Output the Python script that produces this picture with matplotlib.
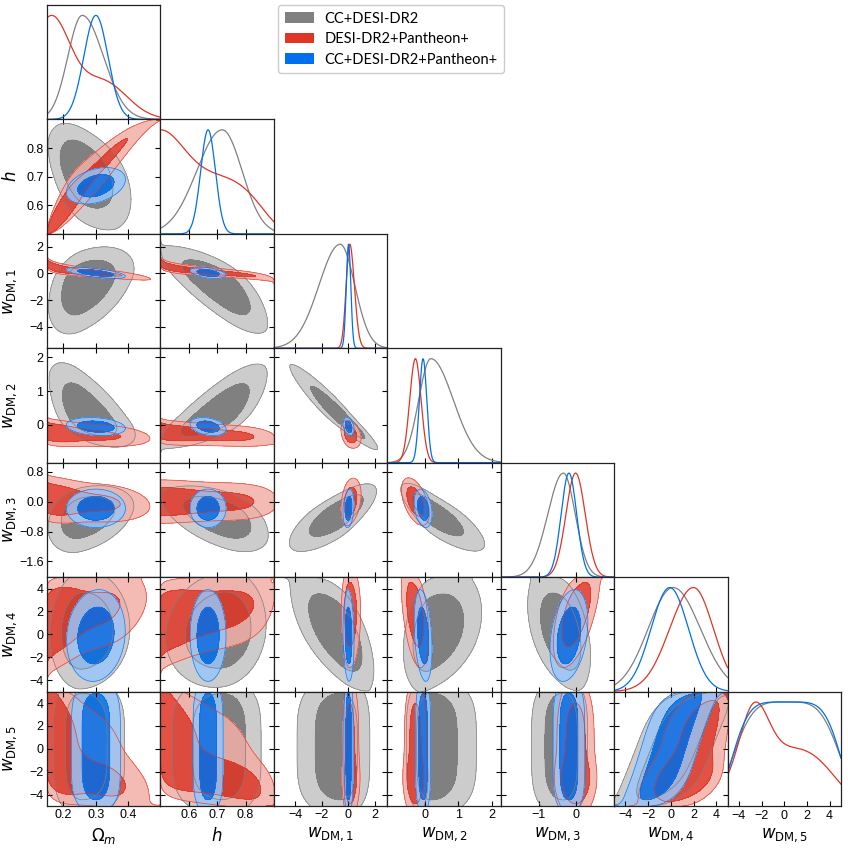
import math
import numpy as np
import matplotlib
matplotlib.use("Agg")
import matplotlib.pyplot as plt
from matplotlib.patches import Patch

plt.rcParams["font.family"] = ["Liberation Sans", "DejaVu Sans"]
plt.rcParams["mathtext.fontset"] = "dejavusans"

# ---------------- data ----------------
param_labels = [r"$\Omega_m$", r"$h$", r"$w_{\rm DM,1}$", r"$w_{\rm DM,2}$",
                r"$w_{\rm DM,3}$", r"$w_{\rm DM,4}$", r"$w_{\rm DM,5}$"]
param_ranges = [(0.15, 0.498), (0.5, 0.9), (-5.6, 2.95), (-1.12, 2.27),
                (-2.02, 1.04), (-5.0, 5.0), (-5.0, 5.0)]

x_ticks = [[0.2, 0.3, 0.4], [0.6, 0.7, 0.8], [-4, -2, 0, 2], [0, 1, 2],
           [-1, 0], [-4, -2, 0, 2, 4], [-4, -2, 0, 2, 4]]
x_ticklabels = [["0.2", "0.3", "0.4"], ["0.6", "0.7", "0.8"],
                ["\u22124", "\u22122", "0", "2"], ["0", "1", "2"],
                ["\u22121", "0"],
                ["\u22124", "\u22122", "0", "2", "4"],
                ["\u22124", "\u22122", "0", "2", "4"]]
y_ticks = [[], [0.6, 0.7, 0.8], [-4, -2, 0, 2], [0, 1, 2],
           [-1.6, -0.8, 0.0, 0.8], [-4, -2, 0, 2, 4], [-4, -2, 0, 2, 4]]
y_ticklabels = [[], ["0.6", "0.7", "0.8"],
                ["\u22124", "\u22122", "0", "2"], ["0", "1", "2"],
                ["\u22121.6", "\u22120.8", "0.0", "0.8"],
                ["\u22124", "\u22122", "0", "2", "4"],
                ["\u22124", "\u22122", "0", "2", "4"]]

dataset_names = ["CC+DESI-DR2", "DESI-DR2+Pantheon+", "CC+DESI-DR2+Pantheon+"]
dataset_colors = ["#808080", "#e03424", "#006FED"]

# 1D marginal shapes: (peak, sigma_left, sigma_right, power, weight)
marg_gray = [
    [(0.258, 0.044, 0.065, 2, 1.0)],
    [(0.718, 0.090, 0.070, 2, 1.0)],
    [(-0.6, 1.6, 1.1, 2, 1.0)],
    [(0.18, 0.36, 0.67, 2, 1.0)],
    [(-0.33, 0.42, 0.32, 2, 1.0)],
    [(0.2, 2.2, 2.4, 2, 1.0)],
    [(0.2, 4.3, 4.3, 4, 1.0)],
]
marg_red = [
    [(0.16, 0.06, 0.06, 2, 0.9), (0.32, 0.075, 0.075, 2, 0.34)],
    [(0.5, 0.08, 0.08, 2, 0.43), (0.5, 0.33, 0.33, 6, 0.57)],
    [(0.12, 0.27, 0.35, 2, 1.0)],
    [(-0.28, 0.17, 0.17, 2, 1.0)],
    [(0.0, 0.26, 0.26, 2, 1.0)],
    [(2.0, 2.1, 1.75, 2, 1.0)],
    [(-2.7, 1.2, 1.2, 2, 0.55), (0.0, 4.0, 4.0, 3, 0.6)],
]
marg_blue = [
    [(0.30, 0.037, 0.037, 2, 1.0)],
    [(0.668, 0.026, 0.026, 2, 1.0)],
    [(0.03, 0.17, 0.17, 2, 1.0)],
    [(-0.05, 0.11, 0.11, 2, 1.0)],
    [(-0.18, 0.21, 0.21, 2, 1.0)],
    [(-0.1, 1.65, 1.65, 2, 1.0)],
    [(0.2, 4.4, 4.4, 5, 1.0)],
]

# pair correlations, ordered row by row: (0,1),(0,2),(1,2),(0,3),(1,3),(2,3),...
corr_gray = [-0.45,
             0.40, -0.75,
             -0.60, 0.75, -0.95,
             0.30, -0.50, 0.75, -0.80,
             0.05, 0.10, -0.60, 0.30, -0.40,
             0.0, 0.0, 0.0, 0.0, 0.0, 0.60]
corr_red = [0.96,
            -0.85, -0.85,
            -0.30, -0.30, -0.30,
            -0.20, 0.00, 0.30, -0.50,
            0.30, 0.25, 0.00, -0.40, 0.55,
            -0.45, -0.45, 0.0, 0.0, 0.0, 0.50]
corr_blue = [0.35,
             -0.60, -0.40,
             -0.20, -0.30, -0.30,
             0.00, 0.00, 0.20, -0.30,
             0.10, 0.00, -0.10, -0.30, 0.30,
             0.0, 0.0, 0.0, 0.0, 0.0, 0.65]

marginals = [marg_gray, marg_red, marg_blue]
correlations = [corr_gray, corr_red, corr_blue]

# ---------------- helpers ----------------
NP = len(param_labels)
NG = 220


def shape(x, comps):
    y = np.zeros_like(x)
    for m, sl, sr, p, w in comps:
        z = np.where(x < m, (m - x) / sl, (x - m) / sr)
        y += w * np.exp(-0.5 * np.abs(z) ** p)
    return y


z_tab = np.linspace(-7, 7, 6001)
phi_tab = 0.5 * (1 + np.array([math.erf(v / math.sqrt(2)) for v in z_tab]))


def gauss_scores(x, comps):
    f = shape(x, comps)
    tot = f.sum()
    pdf = f / (tot * (x[1] - x[0]))
    cdf = (np.cumsum(f) - 0.5 * f) / tot
    cdf = np.clip(cdf, 1e-10, 1 - 1e-10)
    return pdf, np.interp(cdf, phi_tab, z_tab)


def pair_index(i, j):
    return j * (j - 1) // 2 + i


def lighter(c):
    rgb = np.array(matplotlib.colors.to_rgb(c))
    return tuple(rgb * 0.4 + 0.6)


grids = [np.linspace(lo, hi, NG) for lo, hi in param_ranges]

fig = plt.figure(figsize=(8.48, 8.48), dpi=100)
W, H = 848.0, 848.0
x0, x1 = 47.0, 841.0
y0, y1 = 5.0, 806.0
pw = (x1 - x0) / NP
ph = (y1 - y0) / NP

for row in range(NP):
    for col in range(row + 1):
        left = (x0 + col * pw) / W
        bottom = 1 - (y0 + (row + 1) * ph) / H
        ax = fig.add_axes([left, bottom, pw / W, ph / H])
        for s in ax.spines.values():
            s.set_linewidth(0.9)
            s.set_color("#222222")
        if row == col:
            xg = grids[col]
            for d in range(3):
                y = shape(xg, marginals[d][col])
                ax.plot(xg, y / y.max(), color=dataset_colors[d], lw=0.9)
            ax.set_xlim(*param_ranges[col])
            ax.set_ylim(0, 1.1)
            ax.set_yticks([])
            ax.set_xticks(x_ticks[col])
            ax.tick_params(axis="x", direction="in", length=3.5, width=0.8,
                           labelsize=9, pad=3)
        else:
            xg, yg = grids[col], grids[row]
            X, Y = np.meshgrid(xg, yg)
            for d in range(3):
                fx, ax_s = gauss_scores(xg, marginals[d][col])
                fy, ay_s = gauss_scores(yg, marginals[d][row])
                rho = correlations[d][pair_index(col, row)]
                A, B = np.meshgrid(ax_s, ay_s)
                q = (rho ** 2 * (A ** 2 + B ** 2) - 2 * rho * A * B) / (2 * (1 - rho ** 2))
                dens = np.exp(-q) / np.sqrt(1 - rho ** 2) * fx[None, :] * fy[:, None]
                dens = np.nan_to_num(dens)
                flat = np.sort(dens.ravel())[::-1]
                cum = np.cumsum(flat) / flat.sum()
                l68 = flat[np.searchsorted(cum, 0.68)]
                l95 = flat[np.searchsorted(cum, 0.95)]
                top = dens.max() * 1.01
                l68 = min(l68, top * 0.999)
                l95 = min(l95, l68 * 0.999)
                alpha = 1.0 if d == 0 else 0.85
                ax.contourf(X, Y, dens, levels=[l95, l68, top],
                            colors=[lighter(dataset_colors[d]), dataset_colors[d]],
                            alpha=alpha)
                ax.contour(X, Y, dens, levels=[l95, l68],
                           colors=[dataset_colors[d]], linewidths=0.5, alpha=alpha)
            ax.set_xlim(*param_ranges[col])
            ax.set_ylim(*param_ranges[row])
            ax.set_xticks(x_ticks[col])
            ax.set_yticks(y_ticks[row])
            ax.tick_params(direction="in", top=True, right=True, length=3.5,
                           width=0.8, labelsize=9, pad=2.5)
        if row == NP - 1:
            ax.set_xticklabels(x_ticklabels[col])
            ax.set_xlabel(param_labels[col], fontsize=12, labelpad=3)
        else:
            ax.set_xticklabels([])
        if col == 0 and row > 0:
            ax.set_yticklabels(y_ticklabels[row])
            ax.set_ylabel(param_labels[row], fontsize=12)
            ax.yaxis.set_label_coords(-0.245, 0.5)
        elif row != col:
            ax.set_yticklabels([])

handles = [Patch(facecolor=c, edgecolor="none") for c in dataset_colors]
fig.legend(handles, dataset_names, loc="upper left",
           bbox_to_anchor=(278 / W, 1 - 5 / H), borderaxespad=0.0,
           prop={"family": "Lato", "size": 10.5},
           handlelength=2.05, handleheight=0.75, handletextpad=0.7,
           borderpad=0.45, labelspacing=0.45, framealpha=1.0,
           edgecolor="#cccccc")

fig.savefig("out.png", dpi=100)
